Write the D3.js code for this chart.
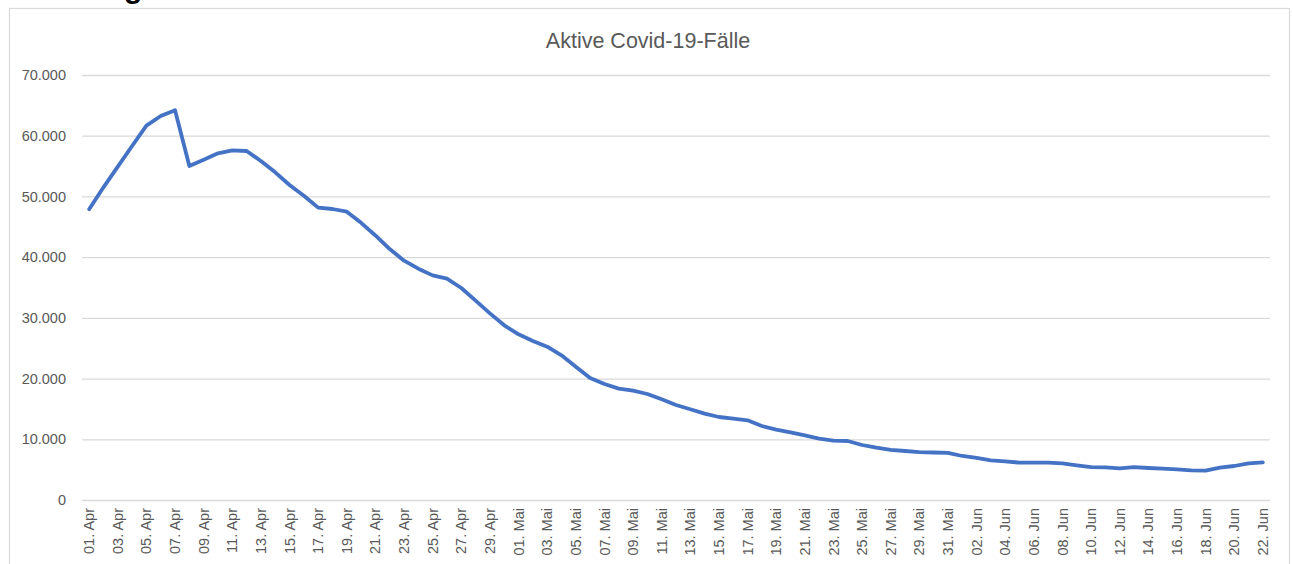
<!DOCTYPE html>
<html>
<head>
<meta charset="utf-8">
<script src="https://cdn.jsdelivr.net/npm/d3@7"></script>
<style>
  html, body { margin: 0; padding: 0; background: #fff; overflow: hidden; }
  svg { display: block; font-family: "Liberation Sans", Arial, sans-serif; }
</style>
</head>
<body>
<svg id="chart" width="1293" height="564"></svg>
<script>
const title = "Aktive Covid-19-Fälle";

const dates = [
  "01. Apr","02. Apr","03. Apr","04. Apr","05. Apr","06. Apr","07. Apr","08. Apr","09. Apr","10. Apr",
  "11. Apr","12. Apr","13. Apr","14. Apr","15. Apr","16. Apr","17. Apr","18. Apr","19. Apr","20. Apr",
  "21. Apr","22. Apr","23. Apr","24. Apr","25. Apr","26. Apr","27. Apr","28. Apr","29. Apr","30. Apr",
  "01. Mai","02. Mai","03. Mai","04. Mai","05. Mai","06. Mai","07. Mai","08. Mai","09. Mai","10. Mai",
  "11. Mai","12. Mai","13. Mai","14. Mai","15. Mai","16. Mai","17. Mai","18. Mai","19. Mai","20. Mai",
  "21. Mai","22. Mai","23. Mai","24. Mai","25. Mai","26. Mai","27. Mai","28. Mai","29. Mai","30. Mai",
  "31. Mai","01. Jun","02. Jun","03. Jun","04. Jun","05. Jun","06. Jun","07. Jun","08. Jun","09. Jun",
  "10. Jun","11. Jun","12. Jun","13. Jun","14. Jun","15. Jun","16. Jun","17. Jun","18. Jun","19. Jun",
  "20. Jun","21. Jun","22. Jun"
];

const activeCases = [
  47900, 51500, 54900, 58300, 61650, 63250, 64200, 55000, 56050, 57100,
  57600, 57480, 55830, 53970, 51880, 50120, 48150, 47930, 47490, 45650,
  43570, 41340, 39420, 38100, 37000, 36450, 34920, 32830, 30740, 28770,
  27290, 26190, 25250, 23830, 21960, 20090, 19100, 18350, 18000, 17460,
  16580, 15650, 14940, 14220, 13670, 13400, 13120, 12190, 11580, 11150,
  10650, 10100, 9770, 9720, 9060, 8620, 8240, 8070, 7900, 7820,
  7770, 7250, 6920, 6530, 6370, 6150, 6150, 6150, 6040, 5710,
  5430, 5380, 5220, 5430, 5270, 5160, 5050, 4890, 4830, 5320,
  5600, 6040, 6200
];

const yTicks = [0, 10000, 20000, 30000, 40000, 50000, 60000, 70000];
const xTickLabels = dates.filter((d, i) => i % 2 === 0);

const svg = d3.select("#chart");
const plot = { left: 82, right: 1270, top: 75, bottom: 500 };

// cropped heading descender above the chart (as in the reference)
svg.append("text")
  .attr("x", 124).attr("y", -2)
  .attr("font-size", 30).attr("font-weight", "bold")
  .attr("fill", "#000").text("g");

// chart frame
svg.append("rect")
  .attr("x", 9.5).attr("y", 8.5)
  .attr("width", 1280).attr("height", 620)
  .attr("fill", "#fff").attr("stroke", "#d9d9d9").attr("stroke-width", 1.2);

const x = d3.scaleBand().domain(dates).range([plot.left, plot.right]).padding(0);
const y = d3.scaleLinear().domain([0, 70000]).range([plot.bottom, plot.top]);

const fmt = v => v === 0 ? "0" : d3.format(",")(v).replace(/,/g, ".");

// gridlines + y labels
const yAxis = d3.axisLeft(y).tickValues(yTicks).tickFormat(fmt)
  .tickSize(-(plot.right - plot.left)).tickPadding(16);
const gy = svg.append("g").attr("transform", `translate(${plot.left},0)`).call(yAxis);
gy.select(".domain").remove();
gy.selectAll(".tick line").attr("stroke", "#d9d9d9").attr("stroke-width", 1.3);
gy.selectAll(".tick text").attr("fill", "#595959").attr("font-size", 14.5)
  .attr("font-family", "Liberation Sans, Arial, sans-serif");

// x axis labels
const xAxis = d3.axisBottom(x).tickValues(xTickLabels).tickSize(0);
const gx = svg.append("g").attr("transform", `translate(0,${plot.bottom})`).call(xAxis);
gx.select(".domain").remove();
gx.selectAll(".tick text")
  .attr("fill", "#595959").attr("font-size", 14.5)
  .attr("font-family", "Liberation Sans, Arial, sans-serif")
  .attr("text-anchor", "end")
  .attr("transform", "rotate(-90)")
  .attr("x", -8).attr("y", 0).attr("dy", "0.35em");

// title
svg.append("text")
  .attr("x", 648).attr("y", 48)
  .attr("text-anchor", "middle")
  .attr("font-size", 21.5).attr("fill", "#595959")
  .text(title);

// line
const line = d3.line()
  .x((d, i) => x(dates[i]) + x.bandwidth() / 2)
  .y(d => y(d));

svg.append("path")
  .datum(activeCases)
  .attr("d", line)
  .attr("fill", "none")
  .attr("stroke", "#4472C4")
  .attr("stroke-width", 3.8)
  .attr("stroke-linejoin", "round")
  .attr("stroke-linecap", "round");
</script>
</body>
</html>
